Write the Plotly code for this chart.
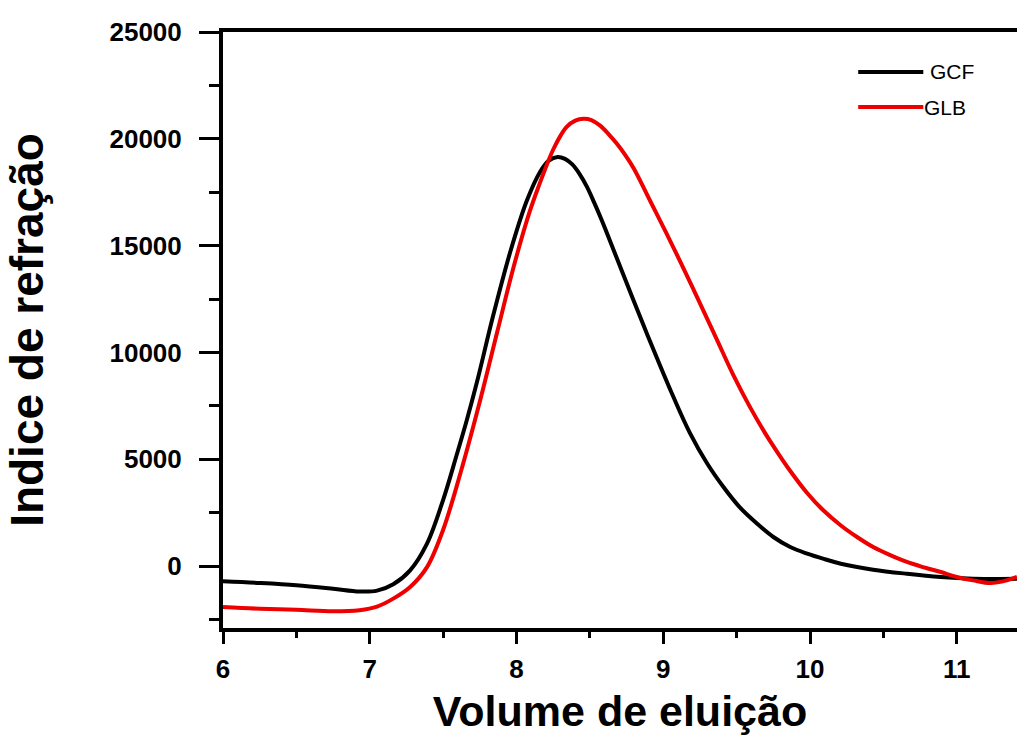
import plotly.graph_objects as go

gcf_x = [6.00, 6.25, 6.50, 6.75, 6.93, 7.05, 7.16, 7.275, 7.39, 7.50, 7.59, 7.66, 7.73, 7.84, 7.96, 8.07, 8.16,
         8.22, 8.28, 8.33, 8.38, 8.43, 8.48, 8.53, 8.58, 8.615, 8.73, 8.84, 8.956, 9.07, 9.18, 9.30, 9.41, 9.52, 9.64,
         9.75, 9.865, 9.98, 10.10, 10.21, 10.43, 10.66, 10.89, 11.11, 11.41]
gcf_y = [-716, -795, -900, -1060, -1190, -1150, -850, -200, 1050, 3100, 5150, 6800, 8600, 11700, 14770, 17100, 18450,
         18980, 19150, 19060, 18800, 18350, 17750, 17000, 16200, 15600, 13600, 11700, 9750, 7900, 6250, 4790, 3700, 2760, 1980,
         1360, 890, 580, 320, 110, -170, -360, -510, -590, -600]

glb_x = [6.00, 6.25, 6.50, 6.75, 6.93, 7.05, 7.16, 7.275, 7.39, 7.50, 7.62, 7.75, 7.87, 7.98, 8.09, 8.16, 8.21, 8.25,
         8.30, 8.34, 8.40, 8.456, 8.51, 8.57, 8.63, 8.68, 8.74, 8.80, 8.91, 9.02, 9.14, 9.25, 9.365, 9.48, 9.59, 9.70,
         9.78, 9.865, 9.98, 10.09, 10.21, 10.32, 10.43, 10.55, 10.66, 10.77, 10.89, 11.00, 11.11, 11.23, 11.34, 11.41]
glb_y = [-1920, -2000, -2050, -2120, -2070, -1900, -1525, -980, -50, 1700, 4400, 7700, 11000, 14000, 16600, 17950, 18850, 19500,
         20150, 20550, 20850, 20940, 20880, 20620, 20200, 19800, 19250, 18600, 17100, 15600, 13900, 12300, 10600, 8900, 7450, 6150,
         5300, 4450, 3420, 2610, 1900, 1360, 890, 500, 190, -50, -280, -510, -670, -795, -670, -510]

series_names = ["GCF", "GLB"]
series_colors = ["#000000", "#ee0000"]

FONT = "Arial, 'Liberation Sans', sans-serif"

fig = go.Figure()
fig.add_trace(go.Scatter(x=gcf_x, y=gcf_y, mode="lines", name=series_names[0],
                         line=dict(color=series_colors[0], width=4, shape="spline", smoothing=1.0)))
fig.add_trace(go.Scatter(x=glb_x, y=glb_y, mode="lines", name=series_names[1],
                         line=dict(color=series_colors[1], width=4, shape="spline", smoothing=1.0)))

# custom legend (long line symbols as in the original)
leg_y = [0.933, 0.874]
leg_text_x = [0.888, 0.880]
for i, nm in enumerate(series_names):
    fig.add_shape(type="line", xref="paper", yref="paper", x0=0.80, x1=0.882, y0=leg_y[i], y1=leg_y[i],
                  line=dict(color=series_colors[i], width=4))
    fig.add_annotation(xref="paper", yref="paper", x=leg_text_x[i], y=leg_y[i], text=nm, showarrow=False,
                       xanchor="left", yanchor="middle", font=dict(family=FONT, size=21, color="black"))

fig.update_layout(
    width=1017, height=744,
    margin=dict(l=223, r=0, t=32, b=116),
    paper_bgcolor="white", plot_bgcolor="white",
    showlegend=False,
    font=dict(family=FONT, color="black"),
)
fig.update_xaxes(
    range=[6, 11.41], dtick=1, tick0=6,
    showline=True, linecolor="black", linewidth=4, mirror=True,
    ticks="outside", ticklen=12, tickwidth=3, tickcolor="black",
    minor=dict(dtick=0.5, ticks="outside", ticklen=6, tickwidth=3, tickcolor="black"),
    showgrid=False, zeroline=False,
    tickfont=dict(family=FONT, size=26, color="black", weight="bold"),
    ticklabelstandoff=3,
    title=dict(text="Volume de eluição", font=dict(family=FONT, size=43, color="black", weight="bold"), standoff=14),
)
fig.update_yaxes(
    range=[-2900, 25000], dtick=5000, tick0=0, tickformat="d",
    showline=True, linecolor="black", linewidth=4, mirror=False,
    ticks="outside", ticklen=20, tickwidth=3, tickcolor="black",
    minor=dict(dtick=2500, ticks="outside", ticklen=10, tickwidth=3, tickcolor="black"),
    showgrid=False, zeroline=False,
    tickfont=dict(family=FONT, size=26, color="black", weight="bold"),
    ticklabelstandoff=12,
    title=dict(text="Indice de refração", font=dict(family=FONT, size=46, color="black", weight="bold"), standoff=52),
)

fig.write_html("out.html")
